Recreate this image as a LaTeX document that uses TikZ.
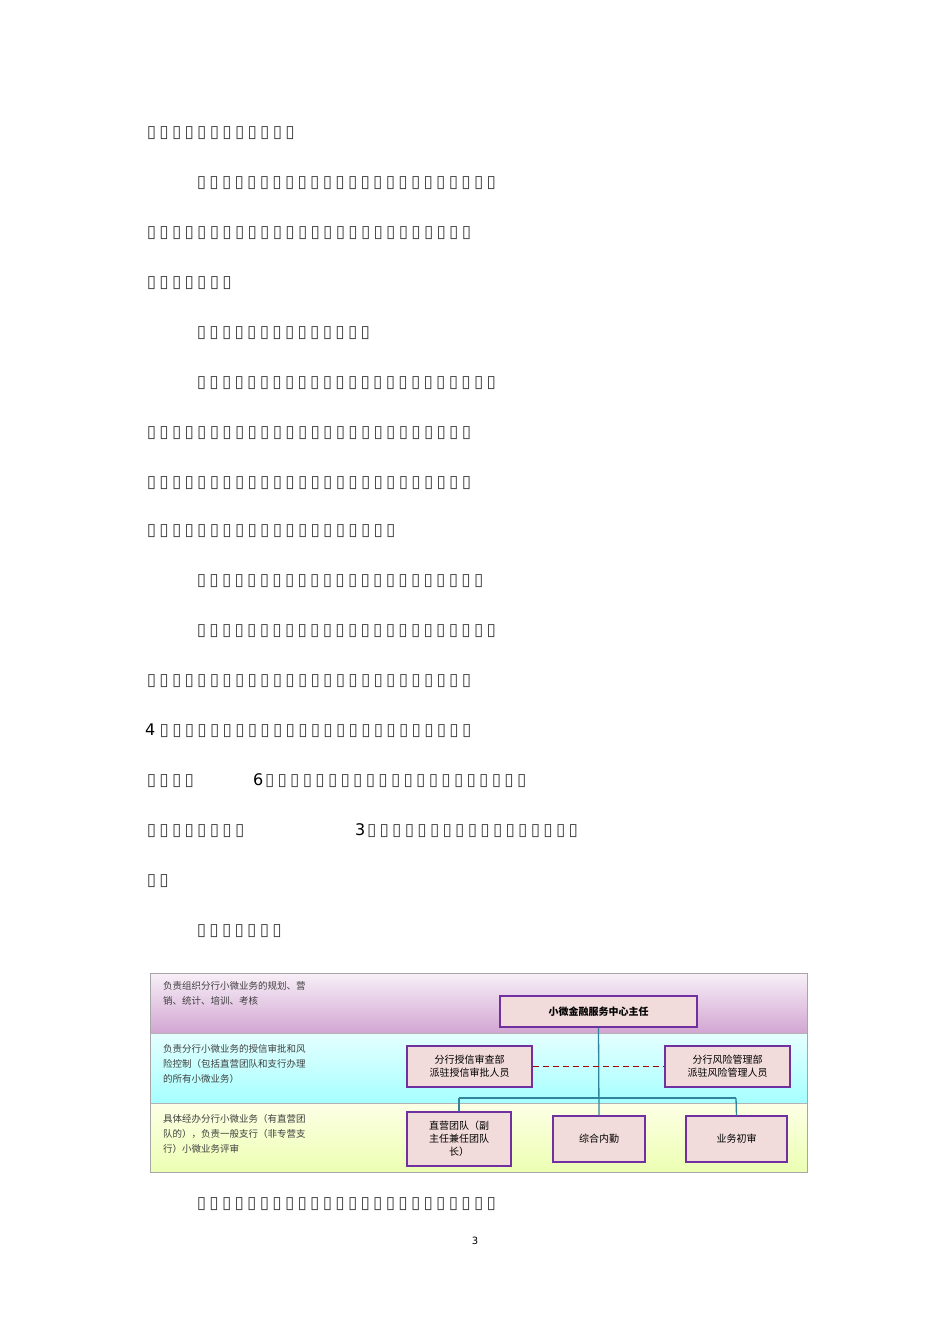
\documentclass[tikz,border=0pt]{standalone}
\usepackage{fontspec}
\setmainfont{DejaVu Sans}
\newfontfamily\cjk{Noto Sans CJK SC}
\newcommand{\bx}[1]{\foreach \i in {1,...,#1}{\makebox[12.6pt]{\color{black!75}\fontsize{17}{17}\selectfont ▯}}}
\definecolor{boxfill}{RGB}{242,220,219}
\definecolor{boxline}{RGB}{112,48,160}
\definecolor{conn}{RGB}{49,133,155}
\tikzset{
 ln/.style={anchor=west,inner sep=0pt},
 org/.style={draw=boxline,line width=1.2pt,fill=boxfill,inner sep=1pt,align=center,font=\cjk\fontsize{10}{13}\selectfont},
 band/.style={anchor=north west,inner sep=0pt,align=left,font=\cjk\fontsize{9.5}{15}\selectfont,text=black!75},
 cn/.style={draw=conn,line width=1.3pt}
}
\begin{document}
\begin{tikzpicture}[x=1pt,y=-1pt]
\useasboundingbox (0,0) rectangle (950,1344);
\fill[white] (0,0) rectangle (950,1344);
% text lines
\node[ln] (l1) at (145,133) {\bx{12}};
\node[ln] (l2) at (195,183) {\bx{24}};
\node[ln] (l3) at (145,233) {\bx{26}};
\node[ln] (l4) at (145,283) {\bx{7}};
\node[ln] (l5) at (195,333) {\bx{14}};
\node[ln] (l6) at (195,383) {\bx{24}};
\node[ln] (l7) at (145,433) {\bx{26}};
\node[ln] (l8) at (145,483) {\bx{26}};
\node[ln] (l9) at (145,531) {\bx{20}};
\node[ln] (l10) at (195,581) {\bx{23}};
\node[ln] (l11) at (195,631) {\bx{24}};
\node[ln] (l12) at (145,681) {\bx{26}};
\node[ln] (l13) at (145,731) {\fontsize{16}{16}\selectfont 4\,\bx{25}};
\node[ln] (l14a) at (145,781) {\bx{4}};
\node[ln] (l14b) at (253,781) {\fontsize{16}{16}\selectfont 6\bx{21}};
\node[ln] (l15a) at (145,831) {\bx{8}};
\node[ln] (l15b) at (355,831) {\fontsize{16}{16}\selectfont 3\bx{17}};
\node[ln] (l16) at (145,881) {\bx{2}};
\node[ln] (l17) at (195,931) {\bx{7}};
\node[ln] (l18) at (195,1204) {\bx{24}};
\node (pg) at (475,1241) {\fontsize{10}{10}\selectfont 3};
% bands
\shade[top color=white!80!violet!30,bottom color=violet!35!white] (150,973) rectangle (807,1033);
\shade[top color=cyan!10,bottom color=cyan!35!white] (150,1033) rectangle (807,1103);
\shade[top color=green!8!yellow!10,bottom color=green!25!yellow!30!white] (150,1103) rectangle (807,1172);
\draw[gray!70,line width=0.8pt] (150,973) rectangle (807,1172);
\draw[gray!60,line width=0.8pt] (150,1033) -- (807,1033) (150,1103) -- (807,1103);
\node[band] (t1) at (163,981) {负责组织分行小微业务的规划、营\\销、统计、培训、考核};
\node[band] (t2) at (163,1044) {负责分行小微业务的授信审批和风\\险控制（包括直营团队和支行办理\\的所有小微业务）};
\node[band] (t3) at (163,1114) {具体经办分行小微业务（有直营团\\队的），负责一般支行（非专营支\\行）小微业务评审};
% connectors
\coordinate (hl) at (459,1098);
\coordinate (hr) at (736,1098);
\coordinate (hm) at (598,1098);
\node[org,minimum width=197pt,minimum height=31pt,font=\cjk\bfseries\fontsize{10}{13}\selectfont] (main) at (598.5,1011.5) {小微金融服务中心主任};
\node[org,minimum width=125pt,minimum height=41pt] (ml) at (469.5,1066.5) {分行授信审查部\\派驻授信审批人员};
\node[org,minimum width=125pt,minimum height=41pt] (mr) at (727.5,1066.5) {分行风险管理部\\派驻风险管理人员};
\node[org,minimum width=104pt,minimum height=54pt] (b1) at (459,1139) {直营团队（副\\主任兼任团队\\长）};
\node[org,minimum width=92pt,minimum height=46pt] (b2) at (599,1139) {综合内勤};
\node[org,minimum width=101pt,minimum height=46pt] (b3) at (736.5,1139) {业务初审};
\draw[cn] (main.south) -- (b2.north);
\draw[cn] (hl) -- (hr);
\draw[cn] (hl) -- (b1.north);
\draw[cn] (hr) -- (b3.north);
\draw[red!65!black,dashed,line width=1.6pt,dash pattern=on 6pt off 4pt] (ml.east) -- (mr.west);
\end{tikzpicture}
\end{document}
